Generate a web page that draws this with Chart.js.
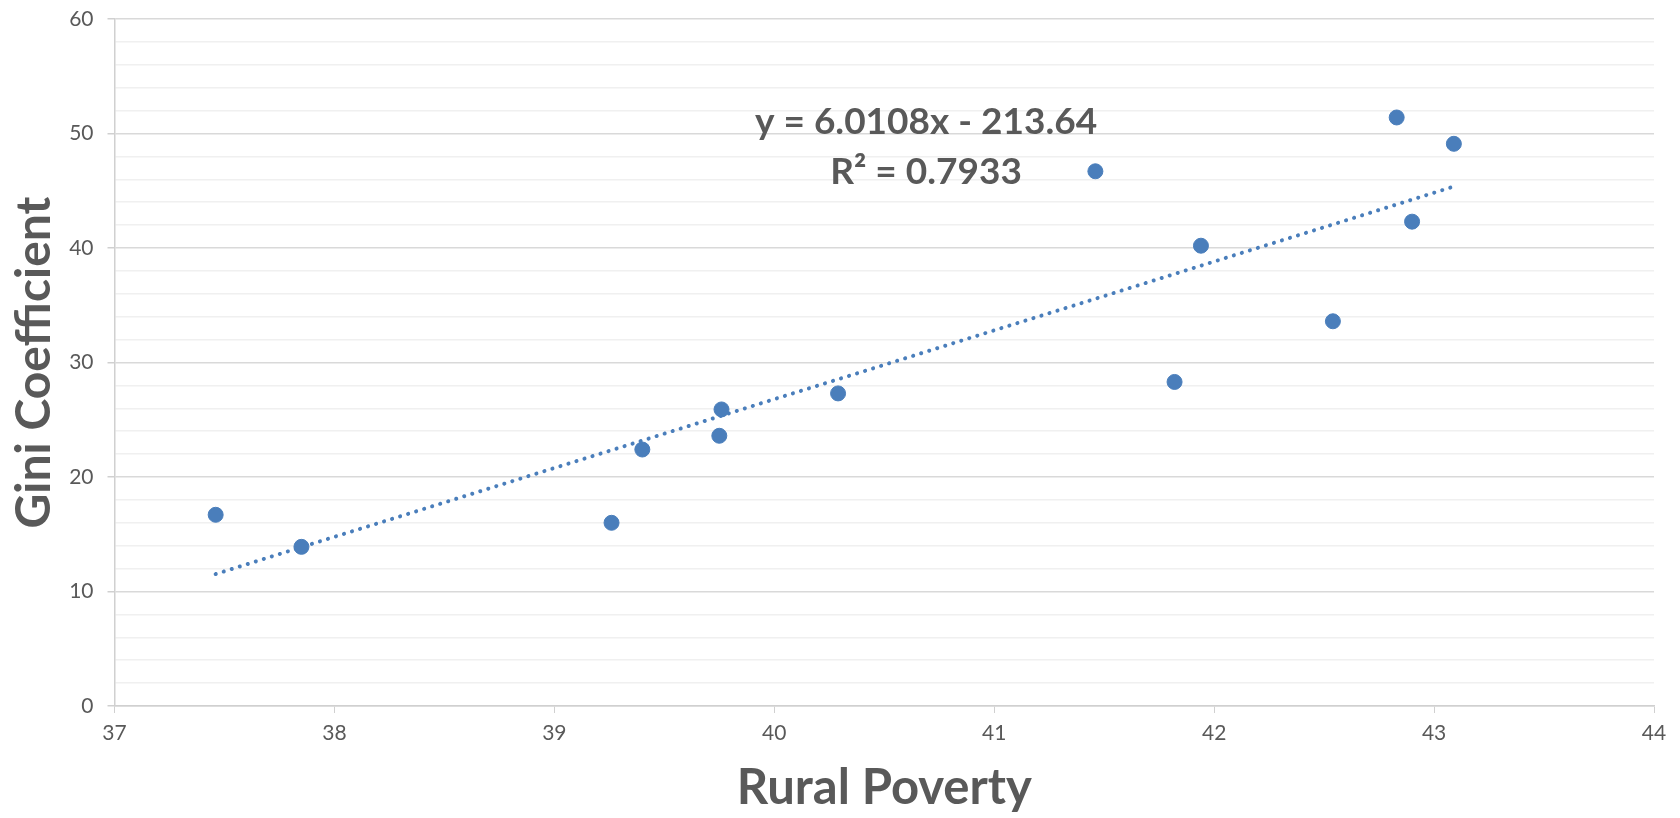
<!DOCTYPE html>
<html lang="en">
<head>
    <meta charset="UTF-8">
    <title>Gini Coefficient vs Rural Poverty</title>
    <script src="https://cdn.jsdelivr.net/npm/chart.js"></script>
    <style>
        html, body { margin: 0; padding: 0; background: #fff; }
        .chart-container { width: 1680px; height: 818px; }
    </style>
</head>
<body>
    <div class="chart-container">
        <canvas id="scatterChart"></canvas>
    </div>

    <script>
    // values
    const ruralPoverty = [37.46, 37.85, 39.26, 39.40, 39.75, 39.76, 40.29, 41.46, 41.82, 41.94, 42.54, 42.83, 42.90, 43.09];
    const giniCoef     = [16.7, 13.9, 16.0, 22.4, 23.6, 25.9, 27.3, 46.7, 28.3, 40.2, 33.6, 51.4, 42.3, 49.1];
    const xTicks = [37, 38, 39, 40, 41, 42, 43, 44];
    const yTicks = [0, 10, 20, 30, 40, 50, 60];

    // linear trendline as printed on the chart
    const slope = 6.0108;
    const intercept = -213.64;
    const eqLines = ['y = 6.0108x - 213.64', 'R\u00B2 = 0.7933'];

    const xMin = Math.min(...ruralPoverty);
    const xMax = Math.max(...ruralPoverty);
    const trendPoints = [xMin, xMax].map(x => ({ x: x, y: slope * x + intercept }));

    const points = ruralPoverty.map((x, i) => ({ x: x, y: giniCoef[i] }));

    const blue = '#4a7ebb';
    const textGray = '#595959';

    const equationLabel = {
        id: 'equationLabel',
        afterDatasetsDraw(chart) {
            const ctx = chart.ctx;
            const xs = chart.scales.x, ys = chart.scales.y;
            ctx.save();
            ctx.fillStyle = textGray;
            ctx.font = 'bold 37px Lato';
            ctx.textAlign = 'center';
            ctx.textBaseline = 'middle';
            ctx.fillText(eqLines[0], xs.getPixelForValue(40.69), ys.getPixelForValue(51.0));
            ctx.fillText(eqLines[1], xs.getPixelForValue(40.69), ys.getPixelForValue(46.6));
            ctx.restore();
        }
    };

    new Chart(document.getElementById('scatterChart').getContext('2d'), {
        type: 'scatter',
        data: {
            datasets: [{
                label: 'Gini Coefficient',
                data: points,
                backgroundColor: blue,
                borderColor: blue,
                pointRadius: 7.5,
                pointHoverRadius: 7.5,
                order: 1
            }, {
                label: 'Trend',
                type: 'line',
                data: trendPoints,
                borderColor: blue,
                borderWidth: 4,
                borderDash: [0.1, 8.3],
                borderCapStyle: 'round',
                pointRadius: 0,
                fill: false,
                order: 2
            }]
        },
        options: {
            responsive: true,
            maintainAspectRatio: false,
            animation: false,
            layout: { padding: { top: 19, right: 26, bottom: 0, left: 0 } },
            plugins: {
                legend: { display: false },
                tooltip: { enabled: false }
            },
            scales: {
                x: {
                    type: 'linear',
                    min: xTicks[0],
                    max: xTicks[xTicks.length - 1],
                    afterBuildTicks: axis => { axis.ticks = xTicks.map(v => ({ value: v })); },
                    afterFit: axis => { axis.height = 112; axis.paddingLeft = 0; axis.paddingRight = 0; },
                    grid: {
                        drawOnChartArea: false,
                        drawTicks: true,
                        tickLength: 7,
                        tickColor: '#d0d0d0'
                    },
                    border: { color: '#d0d0d0', width: 1.5 },
                    ticks: {
                        color: textGray,
                        font: { family: 'Lato', size: 21 },
                        padding: 8
                    },
                    title: {
                        display: true,
                        text: 'Rural Poverty',
                        color: textGray,
                        font: { family: 'Lato', size: 49, weight: 'bold' },
                        padding: { top: 0, bottom: 0 }
                    }
                },
                y: {
                    type: 'linear',
                    min: yTicks[0],
                    max: yTicks[yTicks.length - 1],
                    ticks: {
                        stepSize: 2,
                        color: textGray,
                        font: { family: 'Lato', size: 21 },
                        padding: 14,
                        autoSkip: false,
                        callback: v => (yTicks.includes(v) ? v : '')
                    },
                    afterFit: axis => { axis.width = 114.5; axis.paddingTop = 0; axis.paddingBottom = 0; },
                    grid: {
                        color: c => (yTicks.includes(c.tick.value) ? '#d9d9d9' : '#f0f0f0'),
                        lineWidth: 1.5,
                        tickColor: c => (yTicks.includes(c.tick.value) ? '#d0d0d0' : 'rgba(0,0,0,0)'),
                        tickLength: 7
                    },
                    border: { color: '#d0d0d0', width: 1.5 },
                    title: {
                        display: true,
                        text: 'Gini Coefficient',
                        color: textGray,
                        font: { family: 'Lato', size: 48, weight: 'bold' },
                        padding: { top: 6, bottom: 0 }
                    }
                }
            }
        },
        plugins: [equationLabel]
    });
    </script>
</body>
</html>
